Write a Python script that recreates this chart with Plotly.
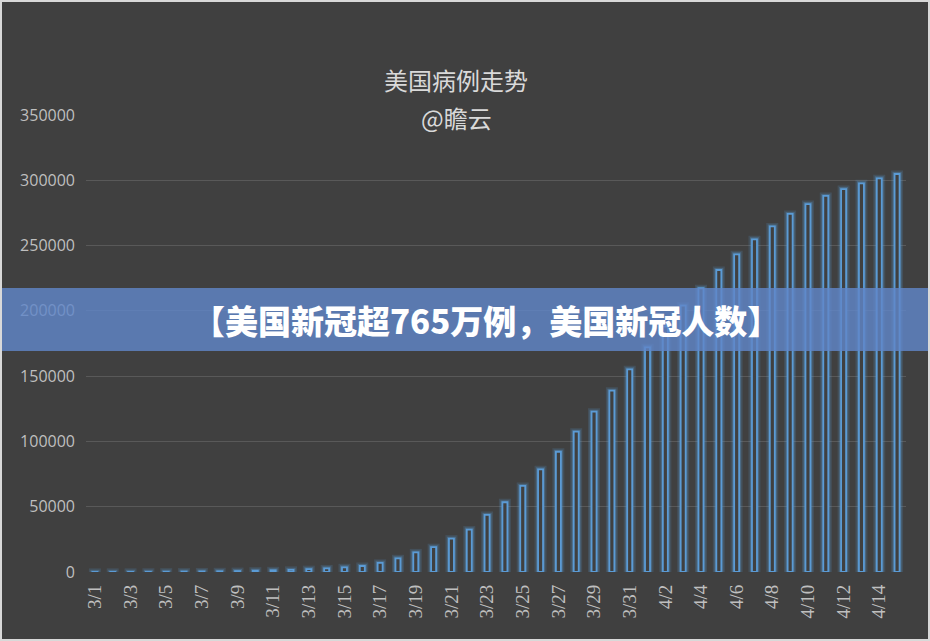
import plotly.graph_objects as go

# 美国累计确诊病例
dates = [
    "3/1", "3/2", "3/3", "3/4", "3/5", "3/6", "3/7", "3/8", "3/9", "3/10",
    "3/11", "3/12", "3/13", "3/14", "3/15", "3/16", "3/17", "3/18", "3/19", "3/20",
    "3/21", "3/22", "3/23", "3/24", "3/25", "3/26", "3/27", "3/28", "3/29", "3/30",
    "3/31", "4/1", "4/2", "4/3", "4/4", "4/5", "4/6", "4/7", "4/8", "4/9",
    "4/10", "4/11", "4/12", "4/13", "4/14", "4/15",
]
cases = [
    75, 100, 124, 158, 221, 319, 435, 541, 704, 994,
    1301, 1630, 2183, 2770, 3613, 4596, 7000, 10500, 15000, 19000,
    25500, 32500, 43700, 53400, 65900, 78600, 92100, 107500, 122800, 138900,
    155200, 172100, 188000, 204000, 217300, 231300, 243300, 254800, 264700, 274200,
    281800, 288000, 293300, 297700, 301500, 304800,
]
tick_dates = dates[::2]
y_ticks = [0, 50000, 100000, 150000, 200000, 250000, 300000, 350000]

title_line1 = "美国病例走势"
title_line2 = "@瞻云"
banner_text = "【美国新冠超765万例，美国新冠人数】"

bg = "#404040"
blue = "#5b9bd5"

W, H = 930, 641
L, R, T, B = 86, 24, 115, 69
pw, ph = W - L - R, H - T - B


def px(x):
    return (x - L) / pw


def py(y):
    return (H - B - y) / ph


fig = go.Figure()

# soft glow behind the bars
fig.add_trace(go.Bar(
    x=dates, y=cases, width=0.28,
    marker=dict(color="rgba(0,0,0,0)", line=dict(color="rgba(91,155,213,0.18)", width=7)),
    hoverinfo="skip", showlegend=False,
))
fig.add_trace(go.Bar(
    x=dates, y=cases, width=0.28,
    marker=dict(color="rgba(0,0,0,0)", line=dict(color="rgba(91,155,213,0.32)", width=4)),
    hoverinfo="skip", showlegend=False,
))
# outlined bars
fig.add_trace(go.Bar(
    x=dates, y=cases, width=0.28,
    marker=dict(color=bg, line=dict(color=blue, width=1.8)),
    showlegend=False,
))

fig.update_layout(
    width=W, height=H,
    paper_bgcolor=bg, plot_bgcolor=bg,
    barmode="overlay",
    margin=dict(l=L, r=R, t=T, b=B),
    font=dict(family="Open Sans, Noto Sans CJK SC", color="#bfbfbf", size=16),
    xaxis=dict(
        type="category", categoryorder="array", categoryarray=dates,
        tickmode="array", tickvals=tick_dates, ticktext=tick_dates,
        tickangle=-90, showgrid=False, zeroline=False, ticks="", showline=False,
        tickfont=dict(family="Liberation Serif", size=19, color="#bfbfbf"),
        ticklabelstandoff=8,
    ),
    yaxis=dict(
        range=[0, 350000], tickvals=y_ticks, tickformat="d",
        gridcolor="#595959", gridwidth=1, zeroline=False, ticks="",
        tickfont=dict(size=16, color="#bfbfbf"), ticklabelstandoff=10,
    ),
    shapes=[
        dict(type="rect", xref="paper", yref="paper", x0=px(0), x1=px(W),
             y0=py(351), y1=py(288),
             fillcolor="rgba(96,134,200,0.82)", line=dict(width=0), layer="above"),
        dict(type="rect", xref="paper", yref="paper", x0=px(0), x1=px(W),
             y0=py(H), y1=py(0),
             line=dict(color="#d9d9d9", width=4), fillcolor="rgba(0,0,0,0)"),
    ],
    annotations=[
        dict(text=title_line1, xref="paper", yref="paper", x=px(456), y=py(79),
             showarrow=False, xanchor="center", yanchor="middle",
             font=dict(family="Noto Sans CJK SC", size=24, color="#d9d9d9")),
        dict(text=title_line2, xref="paper", yref="paper", x=px(456), y=py(117),
             showarrow=False, xanchor="center", yanchor="middle",
             font=dict(family="Noto Sans CJK SC", size=24, color="#d9d9d9")),
        dict(text=banner_text, xref="paper", yref="paper", x=px(486), y=py(320),
             showarrow=False, xanchor="center", yanchor="middle",
             font=dict(family="Noto Sans CJK SC", size=33, color="white", weight=900)),
    ],
)

fig.write_html(
    "out.html",
    config={"displayModeBar": False},
    post_script="document.body.style.margin='0';document.body.style.background='#404040';",
)
